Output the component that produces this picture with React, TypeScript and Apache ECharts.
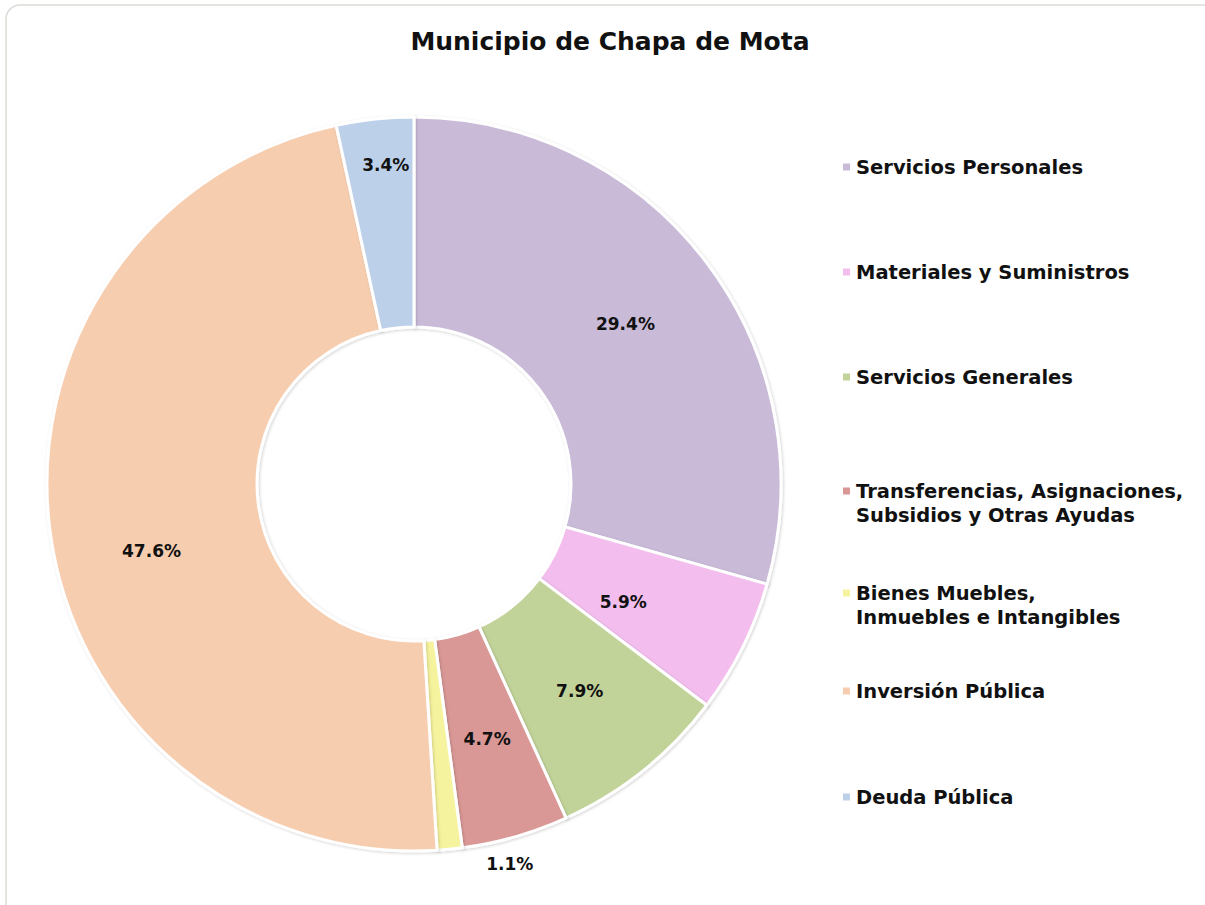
import React, { useEffect, useRef } from "react";
import * as echarts from "echarts";

const categories = [
  "Servicios Personales",
  "Materiales y Suministros",
  "Servicios Generales",
  "Transferencias, Asignaciones,\nSubsidios y Otras Ayudas",
  "Bienes Muebles,\nInmuebles e Intangibles",
  "Inversión Pública",
  "Deuda Pública",
];
const values = [29.4, 5.9, 7.9, 4.7, 1.1, 47.6, 3.4];
const colors = ["#C9BBD8", "#F3BEEE", "#C2D39A", "#D99896", "#F6F39E", "#F6CDAF", "#BDD0EA"];
// centre of the first text line of each legend entry
const legendLineY = [167, 272, 377, 491, 593, 691, 797];
const legendTwoLines = [false, false, false, true, true, false, false];
const outsideLabel = [false, false, false, false, true, false, false];
const labelShift = [[0, 0], [-28, 0], [0, 0], [0, 0], [0, 0], [0, 30], [0, -56]];

export default function App() {
  const ref = useRef<HTMLDivElement>(null);
  useEffect(() => {
    const chart = echarts.init(ref.current!, null, { renderer: "svg" });
    const data = categories.map((name, i) => ({
      name,
      value: values[i],
      itemStyle: { color: colors[i] },
      label: outsideLabel[i]
        ? { position: "outside", distance: 8 }
        : { position: "inside", offset: labelShift[i] },
      labelLine: { show: false },
    }));
    const font = "'DejaVu Sans', Arial, sans-serif";
    chart.setOption({
      animation: false,
      backgroundColor: "#ffffff",
      title: {
        text: "Municipio de Chapa de Mota",
        left: 605,
        textAlign: "center",
        top: 24,
        textStyle: { fontFamily: font, fontSize: 25, fontWeight: "bold", color: "#111" },
      },
      legend: categories.map((name, i) => ({
        data: [name],
        left: 841,
        top: legendTwoLines[i] ? legendLineY[i] - 36 : legendLineY[i] - 12,
        padding: 0,
        orient: "vertical",
        itemWidth: 9,
        itemHeight: 9,
        icon: "rect",
        selectedMode: false,
        formatter: (n: string) => (legendTwoLines[i] ? " \n" + n : n),
        textStyle: {
          fontFamily: font,
          fontSize: 19.5,
          fontWeight: "bold",
          color: "#111",
          lineHeight: 24,
        },
      })),
      graphic: [
        {
          type: "rect",
          shape: { x: 6, y: 5, width: 1260, height: 960, r: 14 },
          style: { fill: "none", stroke: "#dcdcd6", lineWidth: 1.5 },
          silent: true,
          z: -1,
        },
      ],
      series: [
        {
          type: "pie",
          center: [414, 484],
          radius: [157, 367],
          startAngle: 90,
          clockwise: true,
          avoidLabelOverlap: false,
          itemStyle: {
            borderColor: "#ffffff",
            borderWidth: 3,
            shadowColor: "rgba(0,0,0,0.18)",
            shadowBlur: 3,
            shadowOffsetX: 1,
            shadowOffsetY: 1,
          },
          label: {
            show: true,
            formatter: (p: any) => p.value.toFixed(1) + "%",
            fontFamily: font,
            fontSize: 17,
            fontWeight: "bold",
            color: "#111",
          },
          data,
        },
      ],
    });
    return () => chart.dispose();
  }, []);
  return (
    <div
      ref={ref}
      style={{ position: "absolute", left: 0, top: 0, width: 1205, height: 905 }}
    />
  );
}
